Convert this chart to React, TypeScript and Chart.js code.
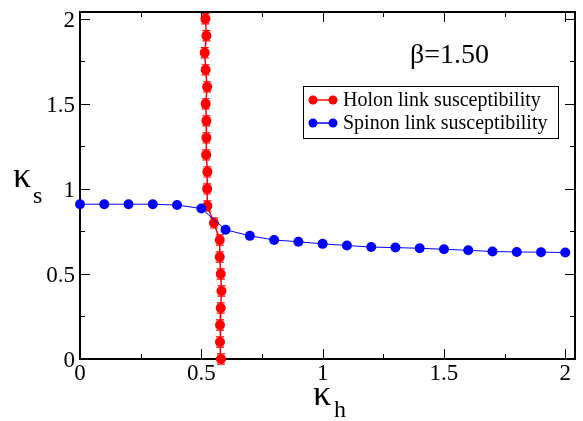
import React, { useEffect, useRef } from "react";
import { Chart, registerables } from "chart.js";

Chart.register(...registerables);

const holonY = [2.0, 1.9, 1.8, 1.7, 1.6, 1.5, 1.4, 1.3, 1.2, 1.1, 1.0, 0.9, 0.8, 0.7, 0.6, 0.5, 0.4, 0.3, 0.2, 0.1, 0.0];
const holonX = [0.517, 0.521, 0.514, 0.518, 0.524, 0.518, 0.521, 0.521, 0.52, 0.525, 0.524, 0.525, 0.552, 0.576, 0.576, 0.58, 0.583, 0.58, 0.577, 0.577, 0.581];
const holonErr = [0.03, 0.03, 0.03, 0.03, 0.03, 0.03, 0.03, 0.03, 0.03, 0.03, 0.03, 0.03, 0.03, 0.03, 0.03, 0.03, 0.03, 0.03, 0.03, 0.03, 0.03];

const spinonX = [0, 0.1, 0.2, 0.3, 0.4, 0.5, 0.6, 0.7, 0.8, 0.9, 1.0, 1.1, 1.2, 1.3, 1.4, 1.5, 1.6, 1.7, 1.8, 1.9, 2.0];
const spinonY = [0.91, 0.91, 0.91, 0.91, 0.905, 0.885, 0.76, 0.724, 0.7, 0.689, 0.677, 0.667, 0.658, 0.655, 0.651, 0.645, 0.639, 0.632, 0.629, 0.628, 0.626];

const majorTicks = [0, 0.5, 1, 1.5, 2];
const majorLabels = ["0", "0.5", "1", "1.5", "2"];
const minorTicks = [0.25, 0.75, 1.25, 1.75];

const seriesNames = ["Holon link susceptibility", "Spinon link susceptibility"];
const seriesColors = ["#ff0000", "#0000ff"];
const titleText = "\u03b2=1.50";

const SERIF = "\"Liberation Serif\", \"Times New Roman\", serif";

const decorPlugin = {
  id: "decor",
  beforeDatasetsDraw(chart: any) {
    const ctx = chart.ctx;
    const xs = chart.scales.x;
    const ys = chart.scales.y;
    const a = chart.chartArea;
    ctx.save();
    // error bars
    ctx.strokeStyle = seriesColors[0];
    ctx.lineWidth = 1.2;
    for (let i = 0; i < holonX.length; i++) {
      const px = xs.getPixelForValue(holonX[i]);
      const p1 = ys.getPixelForValue(holonY[i] - holonErr[i]);
      const p2 = ys.getPixelForValue(holonY[i] + holonErr[i]);
      ctx.beginPath();
      ctx.moveTo(px, p1);
      ctx.lineTo(px, p2);
      ctx.moveTo(px - 4, p1);
      ctx.lineTo(px + 4, p1);
      ctx.moveTo(px - 4, p2);
      ctx.lineTo(px + 4, p2);
      ctx.stroke();
    }
    // frame
    ctx.strokeStyle = "#000";
    ctx.lineWidth = 2;
    ctx.strokeRect(a.left, a.top, a.right - a.left, a.bottom - a.top);
    // ticks
    ctx.lineWidth = 1;
    const drawTicks = (vals: number[], len: number) => {
      for (const v of vals) {
        const px = Math.round(xs.getPixelForValue(v)) + 0.5;
        ctx.beginPath();
        ctx.moveTo(px, a.bottom);
        ctx.lineTo(px, a.bottom - len);
        ctx.moveTo(px, a.top);
        ctx.lineTo(px, a.top + len);
        const py = Math.round(ys.getPixelForValue(v)) + 0.5;
        ctx.moveTo(a.left, py);
        ctx.lineTo(a.left + len, py);
        ctx.moveTo(a.right, py);
        ctx.lineTo(a.right - len, py);
        ctx.stroke();
      }
    };
    drawTicks(majorTicks, 10);
    drawTicks(minorTicks, 5);
    // tick labels
    ctx.fillStyle = "#000";
    ctx.font = "23px " + SERIF;
    ctx.textBaseline = "alphabetic";
    majorTicks.forEach((v, i) => {
      ctx.textAlign = "center";
      ctx.fillText(majorLabels[i], xs.getPixelForValue(v), a.bottom + 21);
      ctx.textAlign = "right";
      ctx.fillText(majorLabels[i], a.left - 5, ys.getPixelForValue(v) + 8);
    });
    // axis titles
    ctx.textAlign = "left";
    ctx.font = "36px " + SERIF;
    ctx.fillText("\u03ba", 13, 187);
    ctx.fillText("\u03ba", 313, 405);
    ctx.font = "24px " + SERIF;
    ctx.fillText("s", 33, 203);
    ctx.fillText("h", 334, 417);
    // title
    ctx.font = "28px " + SERIF;
    ctx.fillText(titleText, 410, 63);
    // legend
    const lx = 303, ly = 86, lw = 255, lh = 52;
    ctx.fillStyle = "#fff";
    ctx.fillRect(lx, ly, lw, lh);
    ctx.strokeStyle = "#000";
    ctx.lineWidth = 1;
    ctx.strokeRect(lx + 0.5, ly + 0.5, lw, lh);
    const rows = [100, 123];
    rows.forEach((ry, i) => {
      ctx.strokeStyle = seriesColors[i];
      ctx.fillStyle = seriesColors[i];
      ctx.lineWidth = 1.5;
      ctx.beginPath();
      ctx.moveTo(313, ry);
      ctx.lineTo(333, ry);
      ctx.stroke();
      [313, 333].forEach((cx) => {
        ctx.beginPath();
        ctx.arc(cx, ry, 4.5, 0, Math.PI * 2);
        ctx.fill();
      });
      ctx.fillStyle = "#000";
      ctx.font = "20px " + SERIF;
      ctx.textBaseline = "middle";
      ctx.fillText(seriesNames[i], 343, ry + 1);
      ctx.textBaseline = "alphabetic";
    });
    ctx.restore();
  },
};

export default function App() {
  const ref = useRef<HTMLCanvasElement | null>(null);
  useEffect(() => {
    if (!ref.current) return;
    const chart = new Chart(ref.current, {
      type: "scatter",
      data: {
        datasets: [
          {
            label: seriesNames[0],
            data: holonX.map((x, i) => ({ x, y: holonY[i] })),
            showLine: true,
            borderColor: seriesColors[0],
            backgroundColor: seriesColors[0],
            borderWidth: 1.5,
            pointRadius: 5,
            pointBorderWidth: 0,
            clip: false,
            order: 2,
          } as any,
          {
            label: seriesNames[1],
            data: spinonX.map((x, i) => ({ x, y: spinonY[i] })),
            showLine: true,
            borderColor: seriesColors[1],
            backgroundColor: seriesColors[1],
            borderWidth: 1,
            pointRadius: 5,
            pointBorderWidth: 0,
            clip: false,
            order: 1,
          } as any,
        ],
      },
      options: {
        animation: false,
        responsive: false,
        devicePixelRatio: 1,
        layout: { padding: { left: 80, top: 12, right: 8, bottom: 62 } },
        scales: {
          x: { type: "linear", min: 0, max: 2.04, display: false },
          y: { type: "linear", min: 0, max: 2.04, display: false },
        },
        plugins: { legend: { display: false }, tooltip: { enabled: false } },
      },
      plugins: [decorPlugin],
    });
    let alive = true;
    const fonts = (document as any).fonts;
    if (fonts) {
      Promise.all([
        fonts.load("22px \"Liberation Serif\"", "0123456789.=\u03b2\u03ba"),
        fonts.load("20px \"Liberation Serif\"", "Holon"),
      ]).then(() => fonts.ready).then(() => {
        if (alive) chart.update();
      }).catch(() => {});
    }
    return () => {
      alive = false;
      chart.destroy();
    };
  }, []);
  return (
    <div style={{ position: "absolute", left: 0, top: 0, width: 583, height: 421, background: "#fff" }}>
      <canvas ref={ref} width={583} height={421} />
    </div>
  );
}
